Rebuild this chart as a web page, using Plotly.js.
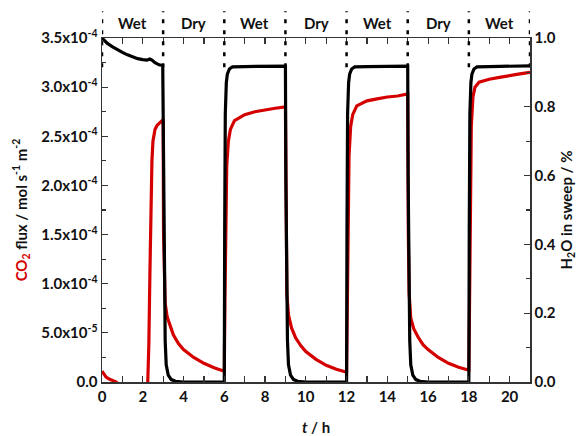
<!DOCTYPE html>
<html>
<head>
<meta charset="utf-8">
<script src="https://cdn.plot.ly/plotly-3.0.1.min.js"></script>
<style>html,body{margin:0;padding:0;background:#fff;}#chart{width:577px;height:436px;}</style>
</head>
<body>
<div id="chart"></div>
<script>
// Time (h) and CO2 flux (mol s-1 m-2)
const tCO2 = [0, 0.1, 0.2, 0.35, 0.5, 0.7, 0.85, 1.0, 1.5, 2.0, 2.24, 2.3, 2.35, 2.4, 2.45, 2.5, 2.6, 2.7, 2.85, 3.0,
  3.02, 3.05, 3.1, 3.2, 3.35, 3.5, 3.75, 4.0, 4.5, 5.0, 5.5, 6.0,
  6.03, 6.07, 6.12, 6.2, 6.3, 6.5, 7.0, 7.5, 8.0, 8.5, 9.0,
  9.03, 9.07, 9.15, 9.3, 9.5, 9.75, 10.0, 10.5, 11.0, 11.5, 12.0,
  12.03, 12.07, 12.12, 12.2, 12.3, 12.5, 13.0, 13.5, 14.0, 14.5, 15.0,
  15.03, 15.07, 15.15, 15.3, 15.5, 15.75, 16.0, 16.5, 17.0, 17.5, 18.0,
  18.03, 18.07, 18.12, 18.2, 18.3, 18.5, 19.0, 19.5, 20.0, 20.5, 21.0];
const co2Flux = [1.1e-5, 8e-6, 5e-6, 3e-6, 1.5e-6, 0, -4e-6, -6e-6, -6e-6, -6e-6, -4e-6, 4e-5, 1.1e-4, 1.8e-4, 2.25e-4, 2.45e-4, 2.57e-4, 2.61e-4, 2.64e-4, 2.67e-4,
  1.5e-4, 1.0e-4, 8.0e-5, 6.6e-5, 5.6e-5, 4.8e-5, 3.9e-5, 3.3e-5, 2.5e-5, 1.9e-5, 1.45e-5, 1.1e-5,
  8e-5, 1.7e-4, 2.2e-4, 2.45e-4, 2.57e-4, 2.66e-4, 2.72e-4, 2.75e-4, 2.77e-4, 2.785e-4, 2.8e-4,
  1.5e-4, 9e-5, 6.8e-5, 5.5e-5, 4.5e-5, 3.7e-5, 3.1e-5, 2.3e-5, 1.7e-5, 1.3e-5, 1.0e-5,
  9e-5, 1.8e-4, 2.3e-4, 2.6e-4, 2.72e-4, 2.81e-4, 2.86e-4, 2.88e-4, 2.9e-4, 2.91e-4, 2.93e-4,
  1.5e-4, 9e-5, 6.5e-5, 5.4e-5, 4.6e-5, 3.8e-5, 3.3e-5, 2.5e-5, 1.9e-5, 1.5e-5, 1.2e-5,
  1.0e-4, 2.0e-4, 2.6e-4, 2.9e-4, 3.0e-4, 3.05e-4, 3.08e-4, 3.1e-4, 3.12e-4, 3.135e-4, 3.15e-4];

// Time (h) and H2O in sweep (%)
const tH2O = [0, 0.25, 0.5, 0.75, 1.0, 1.25, 1.5, 1.75, 2.0, 2.2, 2.35, 2.45, 2.6, 2.8, 2.98,
  3.02, 3.05, 3.1, 3.15, 3.25, 3.4, 3.6, 4.0, 6.0,
  6.02, 6.05, 6.1, 6.15, 6.25, 6.4, 7.0, 9.0,
  9.02, 9.05, 9.1, 9.15, 9.25, 9.4, 9.6, 10.0, 12.0,
  12.02, 12.05, 12.1, 12.15, 12.25, 12.4, 13.0, 15.0,
  15.02, 15.05, 15.1, 15.15, 15.25, 15.4, 15.6, 16.0, 18.0,
  18.02, 18.05, 18.1, 18.15, 18.25, 18.4, 19.0, 21.0];
const h2oSweep = [1.0, 0.985, 0.975, 0.966, 0.958, 0.951, 0.945, 0.94, 0.937, 0.936, 0.939, 0.936, 0.928, 0.922, 0.92,
  0.6, 0.3, 0.12, 0.05, 0.02, 0.007, 0.002, 0.0, 0.0,
  0.45, 0.78, 0.87, 0.895, 0.91, 0.916, 0.917, 0.918,
  0.6, 0.3, 0.12, 0.05, 0.02, 0.007, 0.002, 0.0, 0.0,
  0.45, 0.78, 0.87, 0.895, 0.91, 0.916, 0.917, 0.918,
  0.6, 0.3, 0.12, 0.05, 0.02, 0.007, 0.002, 0.0, 0.0,
  0.45, 0.78, 0.87, 0.895, 0.91, 0.916, 0.917, 0.919];

// Period labels and boundaries
const periodLabels = ["Wet", "Dry", "Wet", "Dry", "Wet", "Dry", "Wet"];
const periodCenters = [1.5, 4.5, 7.5, 10.5, 13.5, 16.5, 19.5];
const periodBounds = [0, 3, 6, 9, 12, 15, 18, 21];

// Tick labels
const xTickVals = [0, 2, 4, 6, 8, 10, 12, 14, 16, 18, 20];
const leftTickVals = [0, 5e-5, 1e-4, 1.5e-4, 2e-4, 2.5e-4, 3e-4, 3.5e-4];
const leftTickText = ["0.0", "5.0x10<sup>-5</sup>", "1.0x10<sup>-4</sup>", "1.5x10<sup>-4</sup>",
  "2.0x10<sup>-4</sup>", "2.5x10<sup>-4</sup>", "3.0x10<sup>-4</sup>", "3.5x10<sup>-4</sup>"];
const rightTickVals = [0, 0.2, 0.4, 0.6, 0.8, 1.0];
const rightTickText = ["0.0", "0.2", "0.4", "0.6", "0.8", "1.0"];

const FONT = {family: "Lato, 'Open Sans', sans-serif", size: 15, color: "#111", weight: "bold"};

const traces = [
  {x: tCO2, y: co2Flux, type: "scatter", mode: "lines", yaxis: "y",
   line: {color: "#d40000", width: 3.2}, hoverinfo: "skip"},
  {x: tH2O, y: h2oSweep, type: "scatter", mode: "lines", yaxis: "y2",
   line: {color: "#000", width: 3.2}, hoverinfo: "skip"}
];

const shapes = periodBounds.map(b => ({
  type: "line", xref: "x", yref: "paper", x0: b, x1: b, y0: 0.915, y1: 1.078,
  line: {color: "#000", width: 2.5, dash: "4px,7px"}, layer: "above"
}));

const annotations = periodLabels.map((lab, i) => ({
  x: periodCenters[i], y: 1.043, xref: "x", yref: "paper", text: lab, showarrow: false,
  font: FONT, xanchor: "center", yanchor: "middle"
}));

const layout = {
  width: 577, height: 436,
  margin: {l: 102, r: 47, t: 38, b: 54},
  paper_bgcolor: "#fff", plot_bgcolor: "#fff",
  showlegend: false,
  font: FONT,
  xaxis: {
    range: [0, 21], tickvals: xTickVals,
    ticks: "inside", ticklen: 6, tickwidth: 1.2, tickcolor: "#333",
    minor: {dtick: 1, tick0: 0, ticks: "inside", ticklen: 6, tickwidth: 1.2, tickcolor: "#333", showgrid: false},
    showline: true, linecolor: "#333", linewidth: 1.5, mirror: "ticks",
    showgrid: false, zeroline: false, tickfont: FONT,
    title: {text: "<i>t</i> / h", font: FONT, standoff: 20}
  },
  yaxis: {
    range: [0, 3.5e-4], tickvals: leftTickVals, ticktext: leftTickText,
    ticks: "inside", ticklen: 6, tickwidth: 1.2, tickcolor: "#333",
    minor: {tickvals: [2.5e-5, 7.5e-5, 1.25e-4, 1.75e-4, 2.25e-4, 2.75e-4, 3.25e-4], ticks: "inside", ticklen: 4, tickwidth: 1.2, tickcolor: "#333", showgrid: false},
    showline: true, linecolor: "#333", linewidth: 1.5,
    showgrid: false, zeroline: false, tickfont: FONT,
    title: {text: "<span style='color:#d40000'>CO<sub>2</sub></span> flux / mol s<sup>-1</sup> m<sup>-2</sup>", font: FONT, standoff: 10}
  },
  yaxis2: {
    range: [0, 1.0], overlaying: "y", side: "right",
    tickvals: rightTickVals, ticktext: rightTickText,
    ticks: "inside", ticklen: 6, tickwidth: 1.2, tickcolor: "#333",
    minor: {tickvals: [0.1, 0.3, 0.5, 0.7, 0.9], ticks: "inside", ticklen: 4, tickwidth: 1.2, tickcolor: "#333", showgrid: false},
    showline: true, linecolor: "#333", linewidth: 1.5,
    showgrid: false, zeroline: false, tickfont: FONT,
    title: {text: "H<sub>2</sub>O in sweep / %", font: FONT, standoff: 6}
  },
  shapes: shapes,
  annotations: annotations
};

Plotly.newPlot("chart", traces, layout, {staticPlot: true, displayModeBar: false});
</script>
</body>
</html>
